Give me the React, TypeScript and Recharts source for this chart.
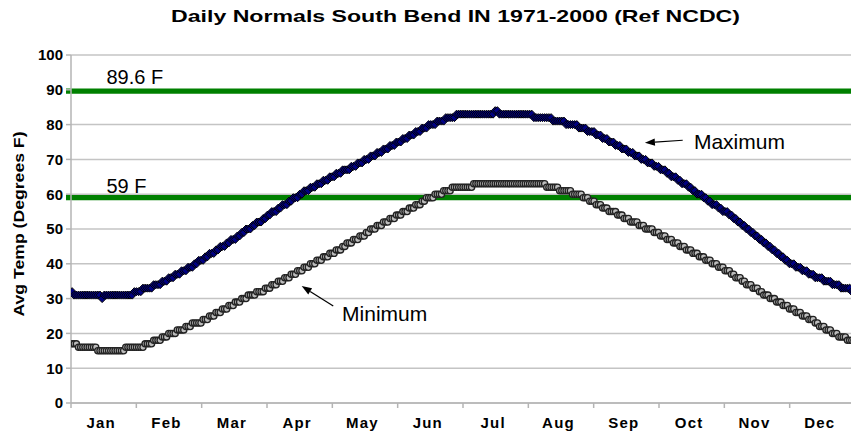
import React from 'react';
import { LineChart, Line, XAxis, YAxis, CartesianGrid, ReferenceLine, ReferenceDot } from 'recharts';

// ---------- data ----------
const MONTHS = ['Jan', 'Feb', 'Mar', 'Apr', 'May', 'Jun', 'Jul', 'Aug', 'Sep', 'Oct', 'Nov', 'Dec'];
const Y_TICKS = [0, 10, 20, 30, 40, 50, 60, 70, 80, 90, 100];

// daily normal maximum (deg F)
const MAX_JAN = [32, 31, 31, 31, 31, 31, 31, 31, 31, 31, 31, 31, 31, 31, 30, 31, 31, 31, 31, 31, 31, 31, 31, 31, 31, 31, 31, 31, 31, 32, 32];
const MAX_FEB = [32, 32, 33, 33, 33, 33, 33, 34, 34, 34, 34, 35, 35, 35, 36, 36, 36, 37, 37, 37, 38, 38, 38, 39, 39, 39, 40, 40];
const MAX_MAR = [41, 41, 41, 42, 42, 43, 43, 43, 44, 44, 45, 45, 45, 46, 46, 47, 47, 47, 48, 48, 49, 49, 50, 50, 50, 51, 51, 52, 52, 52, 53];
const MAX_APR = [53, 54, 54, 55, 55, 55, 56, 56, 57, 57, 57, 58, 58, 59, 59, 59, 60, 60, 61, 61, 61, 62, 62, 62, 63, 63, 63, 64, 64, 64];
const MAX_MAY = [65, 65, 65, 66, 66, 66, 67, 67, 67, 67, 68, 68, 68, 69, 69, 69, 70, 70, 70, 71, 71, 71, 72, 72, 72, 73, 73, 73, 74, 74, 74];
const MAX_JUN = [75, 75, 75, 76, 76, 76, 77, 77, 77, 78, 78, 78, 79, 79, 79, 80, 80, 80, 80, 81, 81, 81, 81, 82, 82, 82, 82, 82, 83, 83];
const MAX_JUL = [83, 83, 83, 83, 83, 83, 83, 83, 83, 83, 83, 83, 83, 83, 83, 83, 84, 84, 83, 83, 83, 83, 83, 83, 83, 83, 83, 83, 83, 83, 83];
const MAX_AUG = [83, 83, 83, 82, 82, 82, 82, 82, 82, 82, 82, 82, 81, 81, 81, 81, 81, 81, 80, 80, 80, 80, 80, 80, 79, 79, 79, 79, 78, 78, 78];
const MAX_SEP = [78, 77, 77, 77, 76, 76, 76, 75, 75, 75, 74, 74, 74, 73, 73, 73, 72, 72, 72, 71, 71, 71, 70, 70, 70, 69, 69, 69, 68, 68];
const MAX_OCT = [68, 67, 67, 67, 66, 66, 65, 65, 65, 64, 64, 63, 63, 63, 62, 62, 61, 61, 60, 60, 60, 59, 59, 58, 58, 57, 57, 57, 56, 56, 55];
const MAX_NOV = [55, 55, 54, 54, 53, 53, 52, 52, 51, 51, 50, 50, 49, 49, 48, 48, 47, 47, 46, 46, 45, 45, 44, 44, 43, 43, 42, 42, 41, 41];
const MAX_DEC = [40, 40, 40, 39, 39, 39, 38, 38, 38, 37, 37, 37, 36, 36, 36, 36, 35, 35, 35, 35, 34, 34, 34, 34, 33, 33, 33, 33, 33, 32, 32];

// daily normal minimum (deg F)
const MIN_JAN = [17, 17, 17, 16, 16, 16, 16, 16, 16, 16, 16, 16, 15, 15, 15, 15, 15, 15, 15, 15, 15, 15, 15, 15, 15, 16, 16, 16, 16, 16, 16];
const MIN_FEB = [16, 16, 16, 17, 17, 17, 17, 18, 18, 18, 18, 19, 19, 19, 20, 20, 20, 20, 21, 21, 21, 21, 22, 22, 22, 23, 23, 23];
const MIN_MAR = [23, 23, 24, 24, 24, 25, 25, 25, 26, 26, 26, 27, 27, 27, 28, 28, 28, 29, 29, 29, 30, 30, 30, 31, 31, 31, 31, 32, 32, 32, 32];
const MIN_APR = [33, 33, 33, 34, 34, 34, 35, 35, 35, 36, 36, 36, 37, 37, 37, 38, 38, 38, 39, 39, 39, 40, 40, 40, 41, 41, 41, 42, 42, 42];
const MIN_MAY = [43, 43, 43, 44, 44, 44, 45, 45, 46, 46, 46, 47, 47, 47, 48, 48, 48, 49, 49, 50, 50, 50, 51, 51, 51, 52, 52, 52, 53, 53, 53];
const MIN_JUN = [54, 54, 54, 55, 55, 55, 56, 56, 56, 57, 57, 57, 58, 58, 59, 59, 59, 59, 60, 60, 60, 60, 61, 61, 61, 61, 62, 62, 62, 62];
const MIN_JUL = [62, 62, 62, 62, 62, 62, 63, 63, 63, 63, 63, 63, 63, 63, 63, 63, 63, 63, 63, 63, 63, 63, 63, 63, 63, 63, 63, 63, 63, 63, 63];
const MIN_AUG = [63, 63, 63, 63, 63, 63, 63, 63, 63, 62, 62, 62, 62, 62, 62, 61, 61, 61, 61, 61, 61, 60, 60, 60, 60, 60, 59, 59, 59, 58, 58];
const MIN_SEP = [58, 57, 57, 57, 56, 56, 56, 55, 55, 55, 55, 54, 54, 54, 53, 53, 53, 52, 52, 52, 52, 51, 51, 51, 50, 50, 50, 50, 49, 49];
const MIN_OCT = [49, 48, 48, 48, 47, 47, 47, 46, 46, 46, 45, 45, 45, 44, 44, 44, 43, 43, 43, 42, 42, 42, 41, 41, 41, 40, 40, 40, 39, 39, 39];
const MIN_NOV = [38, 38, 38, 37, 37, 36, 36, 36, 35, 35, 34, 34, 34, 33, 33, 33, 32, 32, 31, 31, 31, 30, 30, 30, 29, 29, 29, 28, 28, 28];
const MIN_DEC = [27, 27, 27, 26, 26, 26, 25, 25, 25, 24, 24, 24, 23, 23, 22, 22, 22, 21, 21, 21, 20, 20, 20, 19, 19, 19, 19, 18, 18, 18, 18];

const MAX_TEMPS = [
  ...MAX_JAN, ...MAX_FEB, ...MAX_MAR, ...MAX_APR, ...MAX_MAY, ...MAX_JUN,
  ...MAX_JUL, ...MAX_AUG, ...MAX_SEP, ...MAX_OCT, ...MAX_NOV, ...MAX_DEC,
];
const MIN_TEMPS = [
  ...MIN_JAN, ...MIN_FEB, ...MIN_MAR, ...MIN_APR, ...MIN_MAY, ...MIN_JUN,
  ...MIN_JUL, ...MIN_AUG, ...MIN_SEP, ...MIN_OCT, ...MIN_NOV, ...MIN_DEC,
];

const REFERENCE_TEMPS = [89.6, 59];
const REFERENCE_LABELS = ['89.6 F', '59 F'];
const SERIES_LABELS = ['Maximum', 'Minimum'];

const TITLE = 'Daily Normals South Bend IN 1971-2000 (Ref NCDC)';
const Y_LABEL = 'Avg Temp (Degrees F)';

// ---------- derived table ----------
const DAYS_IN_YEAR = MAX_TEMPS.length;
const TABLE = MAX_TEMPS.map((v, i) => ({ day: i + 0.5, max: v, min: MIN_TEMPS[i] }));
const MONTH_TICKS = Array.from({ length: MONTHS.length + 1 }, (_, i) => (i * DAYS_IN_YEAR) / MONTHS.length);

// ---------- layout / style ----------
const FONT = '"Liberation Sans", Arial, Helvetica, sans-serif';
const CHART_W = 860;
const CHART_H = 434;
const MARGIN = { top: 55, right: 5, bottom: 0, left: 0 };
const Y_AXIS_W = 71;
const X_AXIS_H = 31;
const PLOT_W = CHART_W - MARGIN.left - MARGIN.right - Y_AXIS_W;
const HALF_MONTH_PX = PLOT_W / MONTHS.length / 2;
const LABEL_SHIFT = -2.5;
const AXIS_GRAY = '#b4b4b4';
const GRID_GRAY = '#c4c4c4';
const GREEN = '#008000';

// annotation anchors in data coordinates (day, deg F)
const REF_LABEL_POS = [{ x: 16.5, y: 91.6 }, { x: 16.5, y: 60.4 }];
const SERIES_LABEL_POS = [{ x: 290, y: 72.9 }, { x: 126.2, y: 23.6 }];
const ARROWS = [
  [{ x: 284.8, y: 75.5 }, { x: 267.2, y: 74.8 }],
  [{ x: 122.1, y: 27.9 }, { x: 107.4, y: 33.6 }],
];

const MaxDot = (p: any) => {
  const { cx, cy, index } = p;
  if (cx == null || cy == null) return <g key={`mx-${index}`} />;
  const s = 4;
  return (
    <path
      key={`mx-${index}`}
      d={`M${cx},${cy - s}L${cx + s},${cy}L${cx},${cy + s}L${cx - s},${cy}Z`}
      fill="#000080"
      stroke="#000000"
      strokeWidth={1}
    />
  );
};

const MinDot = (p: any) => {
  const { cx, cy, index } = p;
  if (cx == null || cy == null) return <g key={`mn-${index}`} />;
  return <circle key={`mn-${index}`} cx={cx} cy={cy} r={3.1} fill="#bdbdbd" stroke="#222222" strokeWidth={1.3} />;
};

const MonthTick = (p: any) => {
  const { x, y, index } = p;
  if (index == null || index >= MONTHS.length) return <g />;
  return (
    <text
      x={x + HALF_MONTH_PX + LABEL_SHIFT}
      y={y + 17.5}
      textAnchor="middle"
      fontFamily={FONT}
      fontSize={15}
      fontWeight="bold"
      letterSpacing={1.2}
      fill="#000"
    >
      {MONTHS[index]}
    </text>
  );
};

const GreenLine = (p: any) => (
  <line x1={p.x1 - 5} y1={p.y1} x2={p.x2 + 5} y2={p.y2} stroke={GREEN} strokeWidth={5.3} />
);

const ArrowShape = (p: any) => {
  const { x1, y1, x2, y2 } = p;
  const dx = x2 - x1;
  const dy = y2 - y1;
  const len = Math.sqrt(dx * dx + dy * dy) || 1;
  const ux = dx / len;
  const uy = dy / len;
  const hl = 10;
  const hw = 3.6;
  const bx = x2 - ux * hl;
  const by = y2 - uy * hl;
  return (
    <g>
      <line x1={x1} y1={y1} x2={bx} y2={by} stroke="#000" strokeWidth={1.2} />
      <path
        d={`M${x2},${y2}L${bx - uy * hw},${by + ux * hw}L${bx + uy * hw},${by - ux * hw}Z`}
        fill="#000"
      />
    </g>
  );
};

const makeTextShape = (text: string, size: number) => (p: any) => (
  <text x={p.cx} y={p.cy} fontFamily={FONT} fontSize={size} fill="#000" textAnchor="start">
    {text}
  </text>
);

export default function App() {
  return (
    <div
      style={{
        position: 'absolute',
        left: 0,
        top: 0,
        width: 851,
        height: 434,
        overflow: 'hidden',
        background: '#ffffff',
      }}
    >
      <LineChart width={CHART_W} height={CHART_H} data={TABLE} margin={MARGIN}>
        <CartesianGrid vertical={false} stroke={GRID_GRAY} strokeWidth={1.5} />
        <XAxis
          type="number"
          dataKey="day"
          domain={[0, DAYS_IN_YEAR]}
          ticks={MONTH_TICKS}
          interval={0}
          allowDataOverflow
          height={X_AXIS_H}
          tickSize={5}
          tick={MonthTick}
          axisLine={{ stroke: AXIS_GRAY, strokeWidth: 1.5 }}
          tickLine={{ stroke: AXIS_GRAY, strokeWidth: 1.5 }}
        />
        <YAxis
          type="number"
          domain={[0, 100]}
          ticks={Y_TICKS}
          interval={0}
          allowDataOverflow
          width={Y_AXIS_W}
          tickSize={5}
          tickMargin={3}
          tick={{ fontSize: 15, fontWeight: 'bold', fill: '#000', fontFamily: FONT }}
          axisLine={{ stroke: AXIS_GRAY, strokeWidth: 1.5 }}
          tickLine={{ stroke: AXIS_GRAY, strokeWidth: 1.5 }}
        />
        {REFERENCE_TEMPS.map((t, i) => (
          <ReferenceLine key={`ref-${i}`} y={t} stroke={GREEN} strokeWidth={5} shape={GreenLine} />
        ))}
        <Line
          dataKey="max"
          type="linear"
          stroke="#000050"
          strokeWidth={2}
          dot={MaxDot}
          activeDot={false}
          isAnimationActive={false}
        />
        <Line
          dataKey="min"
          type="linear"
          stroke="#303030"
          strokeWidth={2}
          dot={MinDot}
          activeDot={false}
          isAnimationActive={false}
        />
        {REFERENCE_LABELS.map((t, i) => (
          <ReferenceDot
            key={`rl-${i}`}
            x={REF_LABEL_POS[i].x}
            y={REF_LABEL_POS[i].y}
            r={0}
            ifOverflow="visible"
            shape={makeTextShape(t, 20)}
          />
        ))}
        {SERIES_LABELS.map((t, i) => (
          <ReferenceDot
            key={`sl-${i}`}
            x={SERIES_LABEL_POS[i].x}
            y={SERIES_LABEL_POS[i].y}
            r={0}
            ifOverflow="visible"
            shape={makeTextShape(t, 21)}
          />
        ))}
        {ARROWS.map((seg, i) => (
          <ReferenceLine key={`ar-${i}`} segment={seg} ifOverflow="visible" shape={ArrowShape} />
        ))}
      </LineChart>
      <svg
        width={851}
        height={434}
        style={{ position: 'absolute', left: 0, top: 0, pointerEvents: 'none' }}
      >
        <text
          x={455.5}
          y={22.3}
          textAnchor="middle"
          fontFamily={FONT}
          fontSize={17}
          fontWeight="bold"
          textLength={569}
          lengthAdjust="spacingAndGlyphs"
          fill="#000"
        >
          {TITLE}
        </text>
        <text
          transform="translate(24,224) rotate(-90)"
          x={0}
          y={0}
          textAnchor="middle"
          fontFamily={FONT}
          fontSize={14}
          fontWeight="bold"
          textLength={185}
          lengthAdjust="spacingAndGlyphs"
          fill="#000"
        >
          {Y_LABEL}
        </text>
      </svg>
    </div>
  );
}
